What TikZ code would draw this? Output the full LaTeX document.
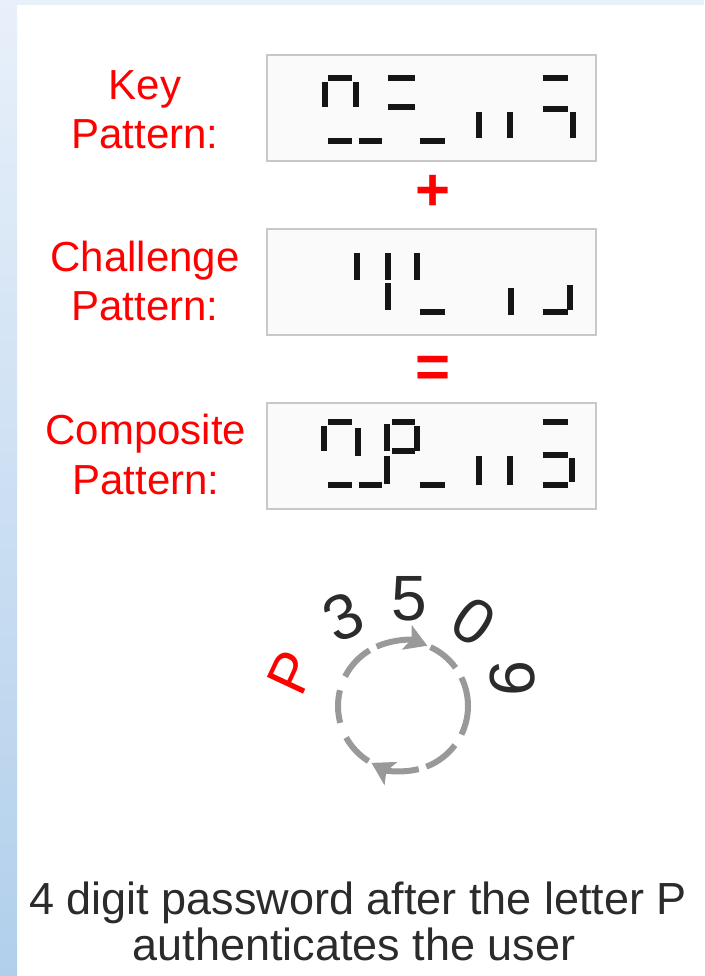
\documentclass[tikz,border=0pt]{standalone}
\usepackage{fontspec}
\setmainfont{Liberation Sans}
\usetikzlibrary{arrows.meta}

\definecolor{panelblueA}{HTML}{E8F0FA}
\definecolor{panelblueB}{HTML}{B1CFEB}
\definecolor{boxedge}{HTML}{C8C8C8}
\definecolor{boxfill}{HTML}{FAFAFA}
\definecolor{lcdseg}{HTML}{151515}
\definecolor{ringgray}{HTML}{999999}
\definecolor{inkgray}{HTML}{2B2B2B}
\definecolor{labelred}{HTML}{FF0000}

\begin{document}
\begin{tikzpicture}[x=1pt, y=-1pt,
  lcdbox/.style={draw=boxedge, line width=2.5pt, fill=boxfill,
                 minimum width=329pt, minimum height=106pt, inner sep=0pt},
  seg/.style={draw=lcdseg, line width=5.5pt},
  lbl/.style={text=labelred, font=\fontsize{42}{50}\selectfont, anchor=base, inner sep=0pt},
  op/.style={text=labelred, font=\fontsize{60}{60}\selectfont\bfseries, inner sep=0pt},
  dial/.style={text=inkgray, font=\fontsize{64}{64}\selectfont, inner sep=0pt},
  ringdash/.style={draw=ringgray, line width=6pt},
  ringarrow/.style={ringdash, -{Stealth[length=22pt,width=26pt,inset=5pt]}},
  caption/.style={text=inkgray, font=\fontsize{45}{46}\selectfont, anchor=base, inner sep=0pt}]

% page and side band
\useasboundingbox (0,0) rectangle (704,976);
\fill[white] (0,0) rectangle (704,976);
\fill[panelblueA] (0,0) rectangle (704,5);
\shade[top color=panelblueA, bottom color=panelblueB] (0,0) rectangle (17,976);

% labels
\node[lbl] (keyA)  at (145,100) {Key};
\node[lbl] (keyB)  at (145,149) {Pattern:};
\node[lbl] (chalA) at (145,271) {Challenge};
\node[lbl] (chalB) at (145,320) {Pattern:};
\node[lbl] (compA) at (146,444) {Composite};
\node[lbl] (compB) at (146,494) {Pattern:};

% display boxes
\node[lcdbox] (keybox)  at (431.5,108) {};
\node[lcdbox] (chalbox) at (431.5,282) {};
\node[lcdbox] (compbox) at (431.5,456) {};

% operators
\node[op] (plus)   at (433,193) {+};
\node[op] (equals) at (433,372) {=};

% key pattern segments
\draw[seg] (328,78) -- (352,78);
\draw[seg] (325,82) -- (325,107);
\draw[seg] (356,82) -- (356,107);
\draw[seg] (388,78) -- (415,78);
\draw[seg] (388,107) -- (415,107);
\draw[seg] (328,141) -- (352,141);
\draw[seg] (359,141) -- (382,141);
\draw[seg] (420,141) -- (445,141);
\draw[seg] (479,112) -- (479,138);
\draw[seg] (510,112) -- (510,138);
\draw[seg] (543,78) -- (568,78);
\draw[seg] (543,109) -- (568,109);
\draw[seg] (573,112) -- (573,138);

% challenge pattern segments
\draw[seg] (357,253) -- (357,280);
\draw[seg] (388,253) -- (388,280);
\draw[seg] (417,253) -- (417,280);
\draw[seg] (388,283) -- (388,310);
\draw[seg] (420,312) -- (445,312);
\draw[seg] (511,288) -- (511,315);
\draw[seg] (543,312) -- (568,312);
\draw[seg] (570,285) -- (570,310);

% composite pattern segments
\draw[seg] (328,422) -- (352,422);
\draw[seg] (324,426) -- (324,451);
\draw[seg] (358,428) -- (358,456);
\draw[seg] (328,485) -- (352,485);
\draw[seg] (359,485) -- (382,485);
\draw[seg] (387,424) -- (387,451);
\draw[seg] (387,456) -- (387,484);
\draw[seg] (392,422) -- (415,422);
\draw[seg] (417,426) -- (417,451);
\draw[seg] (392,451) -- (415,451);
\draw[seg] (420,485) -- (445,485);
\draw[seg] (479,456) -- (479,485);
\draw[seg] (510,456) -- (510,485);
\draw[seg] (543,422) -- (568,422);
\draw[seg] (543,455) -- (568,455);
\draw[seg] (572,458) -- (572,482);
\draw[seg] (543,485) -- (568,485);

% dial ring, running clockwise
\coordinate (ring) at (403,706);
\draw[ringarrow] (ring) ++(246:65) arc[start angle=246, end angle=292, radius=65];
\draw[ringdash]  (ring) ++(295:65) arc[start angle=295, end angle=324, radius=65];
\draw[ringdash]  (ring) ++(334:65) arc[start angle=334, end angle=386, radius=65];
\draw[ringdash]  (ring) ++(37:65)  arc[start angle=37,  end angle=69,  radius=65];
\draw[ringarrow] (ring) ++(76:65)  arc[start angle=76,  end angle=119, radius=65];
\draw[ringdash]  (ring) ++(122:65) arc[start angle=122, end angle=151, radius=65];
\draw[ringdash]  (ring) ++(165:65) arc[start angle=165, end angle=194, radius=65];
\draw[ringdash]  (ring) ++(207:65) arc[start angle=207, end angle=239, radius=65];

% characters around the ring
\node[dial, text=labelred, font=\fontsize{58}{58}\selectfont, rotate=65] (pin) at (292,673) {P};
\node[dial, rotate=25]  (d1) at (343,617) {3};
\node[dial]             (d2) at (409,599) {5};
\node[dial, rotate=-35] (d3) at (474,622) {0};
\node[dial, rotate=-90] (d4) at (513,678) {9};

% caption
\node[caption] (cap1) at (358,914) {4 digit password after the letter P};
\node[caption] (cap2) at (354,960) {authenticates the user};
\end{tikzpicture}
\end{document}
